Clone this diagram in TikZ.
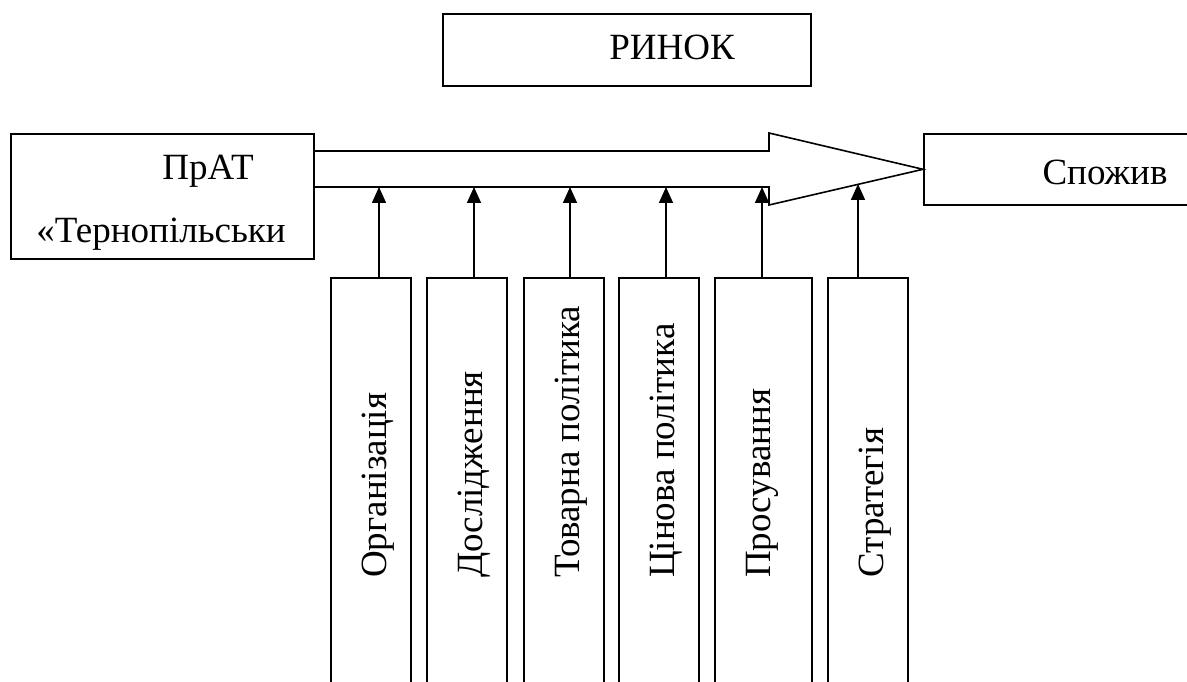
\documentclass[tikz,border=0pt]{standalone}
\usepackage{fontspec}
\setmainfont{Liberation Serif}
\usetikzlibrary{arrows.meta,positioning,calc}
\tikzset{
  bx/.style={draw=black,line width=1.6pt,inner sep=0pt,anchor=north west},
  vbx/.style={bx,minimum width=80pt,minimum height=430pt},
  txt/.style={inner sep=0pt,anchor=base,font=\fontsize{37}{44}\selectfont},
  vtxt/.style={txt,rotate=90,anchor=base west},
  up/.style={-{Triangle[length=16pt,width=14pt]},line width=1.6pt},
}

\begin{document}
\begin{tikzpicture}[x=1pt,y=-1pt]
    \useasboundingbox (0,0) rectangle (1187,682);
    % top box
    \node[bx,minimum width=368pt,minimum height=72pt] (market) at (442,13) {};
    \node[txt] (marketlbl) at (672,60) {РИНОК};
    % left and right boxes
    \node[bx,minimum width=303pt,minimum height=125pt] (firm) at (10,133) {};
    \node[txt] (firmlbl) at (208,179) {ПрАТ};
    \node[txt] (firmlblb) at (161,243) {«Тернопільськи};
    \node[bx,minimum width=300pt,minimum height=71pt] (cons) at (923,133) {};
    \node[txt] (conslbl) at (1105,185) {Спожив};
    % the wide arrow
    \draw[line width=1.6pt,line join=miter]
      (firm.east |- 0,151) -- (769,151) -- (769,133) -- (cons.west)
      -- (769,205) -- (769,187) -- (firm.east |- 0,187);
    % lower boxes
    \node[vbx] (org) at (330,277) {};
    \node[vbx] (research) at (426,277) {};
    \node[vbx] (product) at (523,277) {};
    \node[vbx] (price) at (618,277) {};
    \node[vbx,minimum width=97pt] (promo) at (714,277) {};
    \node[vbx] (strategy) at (827,277) {};
    \node[vtxt] (orglbl) at (386,578) {Організація};
    \node[vtxt] (researchlbl) at (482,578) {Дослідження};
    \node[vtxt] (productlbl) at (579,578) {Товарна політика};
    \node[vtxt] (pricelbl) at (674,578) {Цінова політика};
    \node[vtxt] (promolbl) at (770,578) {Просування};
    \node[vtxt] (strategylbl) at (883,578) {Стратегія};
    % arrow ends on the arrow
    \coordinate (t1) at (379,187);
    \coordinate (t2) at (474,187);
    \coordinate (t3) at (570,187);
    \coordinate (t4) at (666,187);
    \coordinate (t5) at (762,187);
    \coordinate (t6) at (858,184);
    \draw[up] (t1 |- org.north) -- (t1);
    \draw[up] (t2 |- research.north) -- (t2);
    \draw[up] (t3 |- product.north) -- (t3);
    \draw[up] (t4 |- price.north) -- (t4);
    \draw[up] (t5 |- promo.north) -- (t5);
    \draw[up] (t6 |- strategy.north) -- (t6);
  \end{tikzpicture}
\end{document}
